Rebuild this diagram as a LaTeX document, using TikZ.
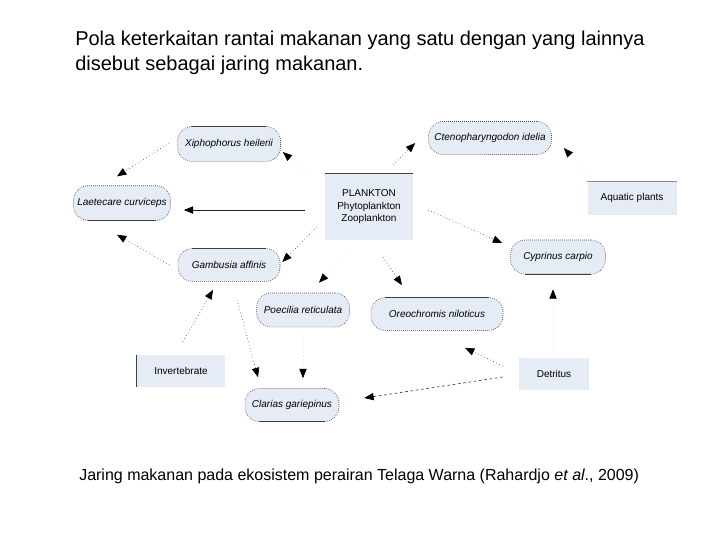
\documentclass[tikz,border=0pt]{standalone}
\usepackage{fontspec}
\setmainfont{Liberation Sans}
\usetikzlibrary{arrows.meta,calc}
\definecolor{nodefill}{RGB}{230,236,246}
\definecolor{bord}{RGB}{70,70,70}
\begin{document}
\begin{tikzpicture}[x=0.75pt,y=-0.75pt,
  fish/.style={draw=bord,densely dotted,line width=0.5pt,fill=nodefill,rounded corners=11pt,
    font=\fontsize{7.5}{9}\selectfont\itshape,inner sep=0pt},
  boxn/.style={fill=nodefill,font=\fontsize{7.5}{9.4}\selectfont,inner sep=0pt,align=center},
  edgeline/.style={line width=0.7pt,draw=black!75},
  feed/.style={draw=black!65,dotted,line width=0.5pt,-{Triangle[length=7pt,width=5.5pt,color=black]}},
  faint/.style={draw=black!10,dotted,line width=0.5pt,-{Triangle[length=7pt,width=5.5pt,color=black]}},
  solidfeed/.style={draw=black!85,line width=0.6pt,-{Triangle[length=7pt,width=5.5pt,color=black]}},
  dashfeed/.style={draw=black!75,dashed,dash pattern=on 2pt off 2pt,line width=0.5pt,-{Triangle[length=7pt,width=5.5pt,color=black]}}]
\useasboundingbox (0,0) rectangle (720,540);
\fill[white] (0,0) rectangle (720,540);

% title and caption
\node[anchor=north west,align=left,inner sep=0pt,font=\fontsize{15}{18.75}\selectfont] (title) at (75,31)
  {Pola keterkaitan rantai makanan yang satu dengan yang lainnya\\disebut sebagai jaring makanan.};
\node[anchor=west,inner sep=0pt,font=\fontsize{12}{14}\selectfont] (cap) at (79,476)
  {Jaring makanan pada ekosistem perairan Telaga Warna (Rahardjo \textit{et al}., 2009)};

% fish nodes
\node[fish,minimum width=77.25pt,minimum height=26.25pt] (xiph) at (229,144) {Xiphophorus heilerii};
\node[fish,minimum width=72.75pt,minimum height=26pt] (laet) at (122,203) {Laetecare curviceps};
\node[fish,minimum width=76.5pt,minimum height=24.75pt] (gamb) at (229,265) {Gambusia affinis};
\node[fish,minimum width=92.25pt,minimum height=24.75pt] (cteno) at (490,138) {Ctenopharyngodon idelia};
\node[fish,minimum width=71.25pt,minimum height=25.5pt] (cyp) at (558,257) {Cyprinus carpio};
\node[fish,minimum width=69.75pt,minimum height=25.5pt] (poe) at (303,310) {Poecilia reticulata};
\node[fish,minimum width=99pt,minimum height=24.75pt] (oreo) at (437,314) {Oreochromis niloticus};
\node[fish,minimum width=70.5pt,minimum height=24.75pt] (clar) at (292,405) {Clarias gariepinus};

% box nodes
\node[boxn,minimum width=66pt,minimum height=49.5pt] (pl) at (369,207) {PLANKTON\\Phytoplankton\\Zooplankton};
\node[boxn,minimum width=66.75pt,minimum height=24.75pt] (aq) at (632,198) {Aquatic plants};
\node[boxn,minimum width=66pt,minimum height=24pt] (inv) at (181,371) {Invertebrate};
\node[boxn,minimum width=52.5pt,minimum height=24pt] (det) at (554,374) {Detritus};

% solid edge accents
\draw[edgeline] ([xshift=11pt]xiph.north west) -- ([xshift=-11pt]xiph.north east);
\draw[edgeline] ([xshift=11pt]laet.south west) -- ([xshift=-11pt]laet.south east);
\draw[edgeline] ([xshift=11pt]gamb.north west) -- ([xshift=-11pt]gamb.north east);
\draw[edgeline] ([xshift=11pt]cyp.south west) -- ([xshift=-11pt]cyp.south east);
\draw[edgeline] ([xshift=11pt]oreo.north west) -- ([xshift=-11pt]oreo.north east);
\draw[edgeline] ([xshift=11pt]clar.south west) -- ([xshift=-11pt]clar.south east);
\draw[edgeline] (pl.north west) -- (pl.north east);
\draw[line width=0.7pt,draw=black!45] (aq.north west) -- (aq.north east);
\draw[edgeline] (inv.north west) -- (inv.south west);

% connectors
\draw[feed] ($(xiph.west)+(-8,-1)$) -- ($(laet.north)+(-5,-9)$);
\draw[faint] ($(pl.north west)+(-18,-1)$) -- ($(xiph.east)+(2,8)$);
\draw[solidfeed] ($(pl.west)+(-20,3)$) -- ($(laet.east)+(13,7)$);
\draw[feed] ($(pl.west)+(-8,20)$) -- ($(gamb.east)+(2,-3)$);
\draw[feed] ($(gamb.west)+(-8,0)$) -- ($(laet.south)+(-5,14)$);
\draw[feed] ($(pl.north)+(24,-9)$) -- ($(cteno.west)+(-13,5)$);
\draw[faint] ($(aq.north west)+(3,-4)$) -- ($(cteno.east)+(12,10)$);
\draw[feed] ($(pl.east)+(15,3)$) -- ($(cyp.west)+(-8,-14)$);
\draw[feed] ($(pl.south)+(14,17)$) -- ($(oreo.north)+(-35,-12)$);
\draw[faint] ($(pl.south)+(-24,15)$) -- ($(poe.north)+(16,-10)$);
\draw[feed] ($(inv.north)+(2,-13)$) -- ($(gamb.south)+(-16,8)$);
\draw[feed] ($(gamb.south)+(8,18)$) -- ($(clar.north)+(-34,-11)$);
\draw[faint] ($(poe.south)+(0,8)$) -- ($(clar.north)+(11,-10)$);
\draw[dashfeed] ($(det.west)+(-16,3)$) -- ($(clar.east)+(25,-7)$);
\draw[feed] ($(det.west)+(-16,-8)$) -- ($(oreo.south)+(28,17)$);
\draw[faint] ($(det.north)+(-1,-6)$) -- ($(cyp.south)+(-5,15)$);
\end{tikzpicture}
\end{document}
